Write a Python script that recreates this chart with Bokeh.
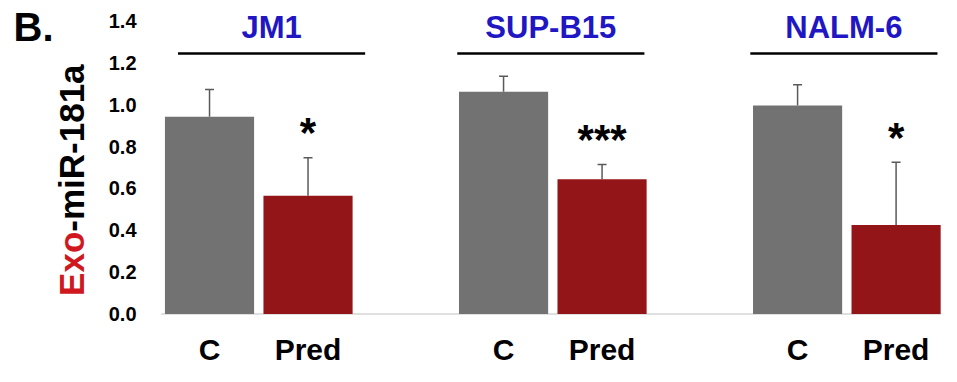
import math
from bokeh.plotting import figure
from bokeh.models import ColumnDataSource, Range1d, Whisker, TeeHead, Label
from bokeh.core.properties import value
from bokeh.embed import file_html
from bokeh.resources import INLINE

# ---- data ----
groups = ["JM1", "SUP-B15", "NALM-6"]
conditions = ["C", "Pred"]
control = [0.943, 1.062, 0.997]
control_err = [0.130, 0.074, 0.099]
pred = [0.565, 0.644, 0.425]
pred_err = [0.182, 0.070, 0.300]
stars = ["*", "***", "*"]
y_ticks = [0.0, 0.2, 0.4, 0.6, 0.8, 1.0, 1.2, 1.4]
y_tick_labels = ["0.0", "0.2", "0.4", "0.6", "0.8", "1.0", "1.2", "1.4"]

# ---- layout / style ----
FONT = "Liberation Sans"
GRAY = "#727272"
RED = "#931518"
BLUE = "#2016C4"
GROUP_STEP = 2.985      # distance between groups (in bar slots)
BAR_W = 0.905
header_shift = [0.13, -0.02, -0.03]

xs, tops, errs, colors, conds = [], [], [], [], []
for i in range(len(groups)):
    for j, c in enumerate(conditions):
        xs.append(i * GROUP_STEP + j)
        tops.append(control[i] if j == 0 else pred[i])
        errs.append(control_err[i] if j == 0 else pred_err[i])
        colors.append(GRAY if j == 0 else RED)
        conds.append(c)

src = ColumnDataSource(dict(x=xs, top=tops, upper=[t + e for t, e in zip(tops, errs)],
                            color=colors, cond=conds))

x_start, x_end = -2.122, 7.431
p = figure(x_range=Range1d(x_start, x_end), y_range=Range1d(-0.2515, 1.4988),
           width=941, height=366, output_backend="svg", toolbar_location=None,
           x_axis_location=None, y_axis_location=None, title=None,
           min_border_left=0, min_border_right=0, min_border_top=0, min_border_bottom=0)
p.outline_line_color = None
p.grid.visible = False
p.background_fill_color = "white"
p.border_fill_color = "white"

# y tick labels (value axis)
p.text(x=-0.741, y=y_ticks, text=y_tick_labels, text_align="right", text_baseline="middle",
       text_font=value(FONT), text_font_style="bold", text_font_size="20px", text_color="black")

# baseline
p.segment(x0=min(xs) - 0.49, y0=0, x1=x_end, y1=0, line_color="#d6d6d6", line_width=1.5)

# bars
p.vbar(x="x", top="top", width=BAR_W, source=src, fill_color="color", line_color=None)

# error bars (upper only)
p.add_layout(Whisker(base="x", lower="top", upper="upper", source=src,
                     line_color="#5a5a5a", line_width=1.5,
                     upper_head=TeeHead(size=9, line_color="#5a5a5a", line_width=1.5),
                     lower_head=None))

# category labels under bars
p.text(x="x", y=-0.170, text="cond", source=src, text_align="center",
       text_baseline="middle", text_font=value(FONT), text_font_style="bold",
       text_font_size="30px", text_color="black")

# group headers and lines
centers = [i * GROUP_STEP + 0.5 + s for i, s in enumerate(header_shift)]
gsrc = ColumnDataSource(dict(xc=centers, x0=[c - 0.95 for c in centers],
                             x1=[c + 0.95 for c in centers], name=groups))
p.segment(x0="x0", y0=1.245, x1="x1", y1=1.245, source=gsrc, line_color="black", line_width=2.5)
p.text(x="xc", y=1.372, text="name", source=gsrc, text_align="center",
       text_baseline="middle", text_font=value(FONT), text_font_style="bold",
       text_font_size="31px", text_color=BLUE)

# significance stars
ssrc = ColumnDataSource(dict(
    x=[i * GROUP_STEP + 1 for i in range(len(groups))],
    y=[v + e + 0.12 for v, e in zip(pred, pred_err)],
    s=stars))
p.text(x="x", y="y", text="s", source=ssrc, text_align="center",
       text_baseline="middle", text_font=value(FONT), text_font_style="bold",
       text_font_size="42px", text_color="black")

# y-axis title (two colours)
p.add_layout(Label(x=-1.401, y=0.393, text="Exo", angle=math.pi / 2,
                   text_align="right", text_baseline="middle",
                   text_font=FONT, text_font_style="bold", text_font_size="35px",
                   text_color="#D0191F"))
p.add_layout(Label(x=-1.401, y=0.393, text="-miR-181a", angle=math.pi / 2,
                   text_align="left", text_baseline="middle",
                   text_font=FONT, text_font_style="bold", text_font_size="35px",
                   text_color="black"))

# panel letter
p.add_layout(Label(x=-1.99, y=1.372, text="B.", text_align="left",
                   text_baseline="middle", text_font=FONT, text_font_style="bold",
                   text_font_size="40px", text_color="black"))

open("out.html", "w").write(file_html(p, INLINE))
